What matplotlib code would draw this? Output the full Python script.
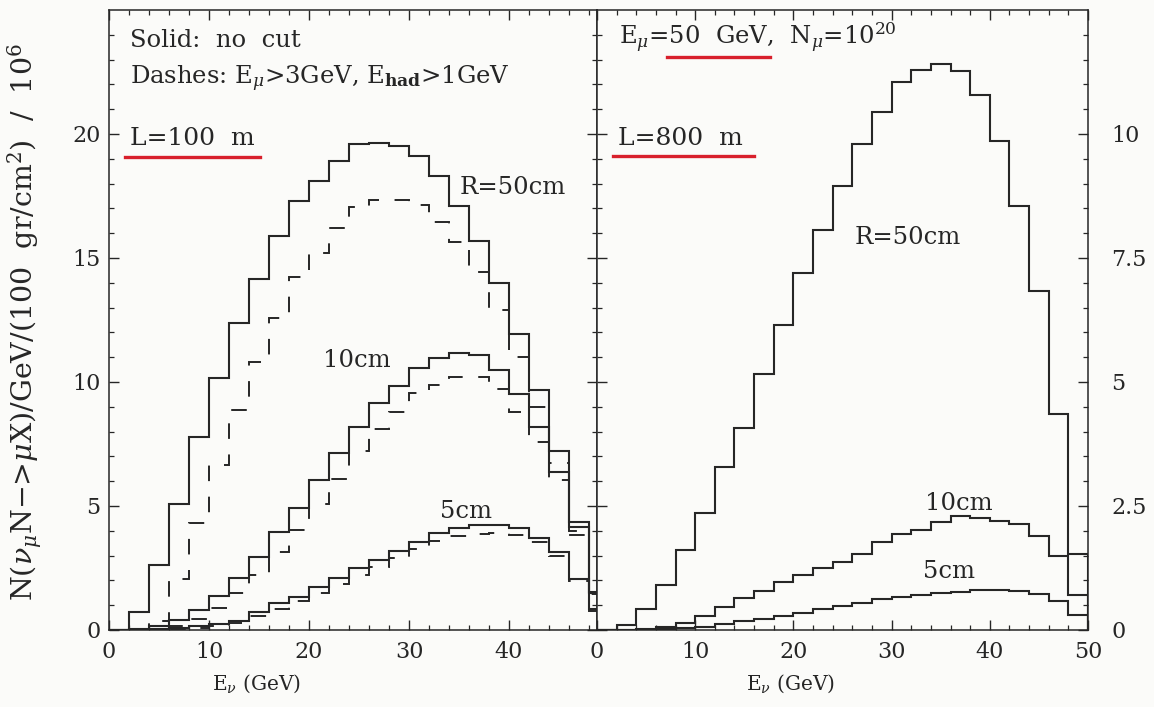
"""
    Muon-neutrino charged-current event spectra per GeV for a 50 GeV muon
    beam, L=100 m (left) and L=800 m (right), detector radius 50/10/5 cm.
"""

import numpy as np
import matplotlib.pyplot as plt

plt.rcParams['font.family'] = 'DejaVu Serif'
plt.rcParams['mathtext.fontset'] = 'dejavuserif'

# bin edges in E_nu (GeV), 2 GeV bins
edges = np.arange(0, 51, 2)

# L = 100 m, events / 10^6
left_r50 = [0, 0.74, 2.62, 5.08, 7.78, 10.15, 12.38, 14.15, 15.9, 17.3,
            18.1, 18.9, 19.6, 19.65, 19.5, 19.1, 18.3, 17.1, 15.7, 14.0,
            11.94, 9.68, 7.2, 4.37, 1.55]
left_r50_cut = [0, 0.05, 0.35, 2.05, 4.3, 6.65, 8.87, 10.8, 12.58, 14.25,
                15.2, 16.2, 17.05, 17.35, 17.35, 17.15, 16.45, 15.65, 14.45, 12.9,
                11.0, 9.0, 6.75, 4.0, 1.45]
left_r10 = [0, 0.05, 0.18, 0.4, 0.81, 1.37, 2.08, 2.93, 3.96, 4.9,
            6.05, 7.12, 8.2, 9.14, 9.84, 10.55, 10.95, 11.16, 11.09, 10.48,
            9.5, 8.2, 6.38, 4.17, 1.5]
left_r10_cut = [0, 0, 0.05, 0.15, 0.45, 0.9, 1.5, 2.22, 3.16, 4.03,
                5.08, 6.1, 7.2, 8.1, 8.8, 9.55, 9.88, 10.2, 10.2, 9.7,
                8.8, 7.6, 6.05, 3.85, 1.4]
left_r5 = [0, 0.02, 0.05, 0.1, 0.18, 0.25, 0.38, 0.74, 1.08, 1.34,
           1.75, 2.08, 2.49, 2.82, 3.2, 3.56, 3.92, 4.1, 4.23, 4.23,
           4.1, 3.7, 3.16, 2.04, 0.85]
left_r5_cut = [0, 0, 0.02, 0.05, 0.1, 0.18, 0.3, 0.55, 0.85, 1.15,
               1.5, 1.85, 2.2, 2.55, 2.9, 3.25, 3.6, 3.78, 3.88, 3.9,
               3.85, 3.55, 2.98, 1.98, 0.75]

# L = 800 m, no cut
right_r50 = [0, 0.1, 0.42, 0.9, 1.62, 2.36, 3.29, 4.08, 5.16, 6.14,
             7.19, 8.06, 8.95, 9.8, 10.45, 11.05, 11.29, 11.41, 11.28, 10.78,
             9.85, 8.55, 6.83, 4.35, 1.54]
right_r10 = [0, 0.01, 0.03, 0.07, 0.15, 0.28, 0.47, 0.64, 0.79, 0.96,
             1.11, 1.24, 1.37, 1.53, 1.78, 1.93, 2.01, 2.18, 2.29, 2.25,
             2.2, 2.13, 1.89, 1.49, 0.70]
right_r5 = [0, 0, 0.01, 0.02, 0.04, 0.07, 0.12, 0.18, 0.23, 0.28,
            0.35, 0.42, 0.48, 0.55, 0.62, 0.66, 0.7, 0.74, 0.77, 0.8,
            0.8, 0.78, 0.72, 0.59, 0.3]

ink = '#262626'
red = '#d8202c'
dash = (0, (8, 8))
fs = 17.5   # annotation size

fig = plt.figure(figsize=(11.54, 7.07), dpi=100, facecolor='#fbfbf9')
ax1 = fig.add_axes([109 / 1154, 77 / 707, 488 / 1154, 620 / 707])
ax2 = fig.add_axes([597 / 1154, 77 / 707, 491 / 1154, 620 / 707])

for ax in (ax1, ax2):
    ax.set_facecolor('#fbfbf9')
    for s in ax.spines.values():
        s.set_linewidth(1.1)
        s.set_color(ink)
    ax.tick_params(which='both', direction='in', top=True, right=True,
                   left=True, bottom=True, color=ink, labelsize=16,
                   labelcolor=ink)
    ax.tick_params(which='major', length=7.5, width=1)
    ax.tick_params(which='minor', length=3.8, width=0.9)
    ax.tick_params(axis='x', pad=8)

# left panel
for vals in (left_r50, left_r10, left_r5):
    ax1.stairs(vals, edges, color=ink, lw=1.5)
for vals in (left_r50_cut, left_r10_cut, left_r5_cut):
    ax1.stairs(vals, edges, color=ink, lw=1.4, linestyle=dash)
ax1.set_xlim(0, 48.8)
ax1.set_ylim(0, 25)
ax1.set_xticks([0, 10, 20, 30, 40])
ax1.set_xticks(np.arange(0, 49, 2), minor=True)
ax1.set_yticks([0, 5, 10, 15, 20])
ax1.set_yticks(np.arange(0, 25, 1), minor=True)
ax1.tick_params(axis='y', pad=6)

ax1.text(0.043, 0.94, 'Solid:  no  cut', transform=ax1.transAxes, fontsize=fs,
         color=ink, va='baseline')
ax1.text(0.043, 0.881, r'Dashes: E$_\mu$>3GeV, E$_{\mathbf{had}}$>1GeV',
         transform=ax1.transAxes, fontsize=fs, color=ink, va='baseline')
ax1.text(0.043, 0.782, 'L=100  m', transform=ax1.transAxes, fontsize=18,
         color=ink, va='baseline')
ax1.plot([0.033, 0.309], [0.763, 0.763], transform=ax1.transAxes, color=red, lw=2.4)
ax1.text(35.1, 17.6, 'R=50cm', fontsize=fs, color=ink, va='baseline')
ax1.text(21.4, 10.6, '10cm', fontsize=fs, color=ink, va='baseline')
ax1.text(33.1, 4.5, '5cm', fontsize=fs, color=ink, va='baseline')

# right panel
for vals in (right_r50, right_r10, right_r5):
    ax2.stairs(vals, edges, color=ink, lw=1.5)
ax2.set_xlim(0, 50)
ax2.set_ylim(0, 12.5)
ax2.set_xticks([0, 10, 20, 30, 40, 50])
ax2.set_xticks(np.arange(0, 51, 2), minor=True)
ax2.set_yticks([0, 2.5, 5, 7.5, 10])
ax2.set_yticklabels(['0', '2.5', '5', '7.5', '10'])
ax2.set_yticks(np.arange(0, 12.5, 0.5), minor=True)
ax2.tick_params(axis='y', labelleft=False, labelright=True, pad=17)

ax2.text(0.045, 0.944, r'E$_\mu$=50  GeV,  N$_\mu$=10$^{20}$', transform=ax2.transAxes,
         fontsize=fs, color=ink, va='baseline')
ax2.plot([0.143, 0.352], [0.924, 0.924], transform=ax2.transAxes, color=red, lw=2.4)
ax2.text(0.043, 0.782, 'L=800  m', transform=ax2.transAxes, fontsize=18,
         color=ink, va='baseline')
ax2.plot([0.033, 0.32], [0.765, 0.765], transform=ax2.transAxes, color=red, lw=2.4)
ax2.text(26.2, 7.79, 'R=50cm', fontsize=fs, color=ink, va='baseline')
ax2.text(33.4, 2.41, '10cm', fontsize=fs, color=ink, va='baseline')
ax2.text(33.2, 1.05, '5cm', fontsize=fs, color=ink, va='baseline')

# axis titles
fig.text(257 / 1154, 0.025, r'E$_\nu$ (GeV)', fontsize=14.5, color=ink, ha='center')
fig.text(791 / 1154, 0.025, r'E$_\nu$ (GeV)', fontsize=14.5, color=ink, ha='center')
fig.text(0.022, 0.545, r'N($\nu_\mu$N$-$>$\mu$X)/GeV/(100  gr/cm$^2$)  /  10$^6$',
         rotation=90, fontsize=20.5, color=ink, ha='center', va='center')

fig.savefig('out.png', dpi=100, facecolor=fig.get_facecolor())
